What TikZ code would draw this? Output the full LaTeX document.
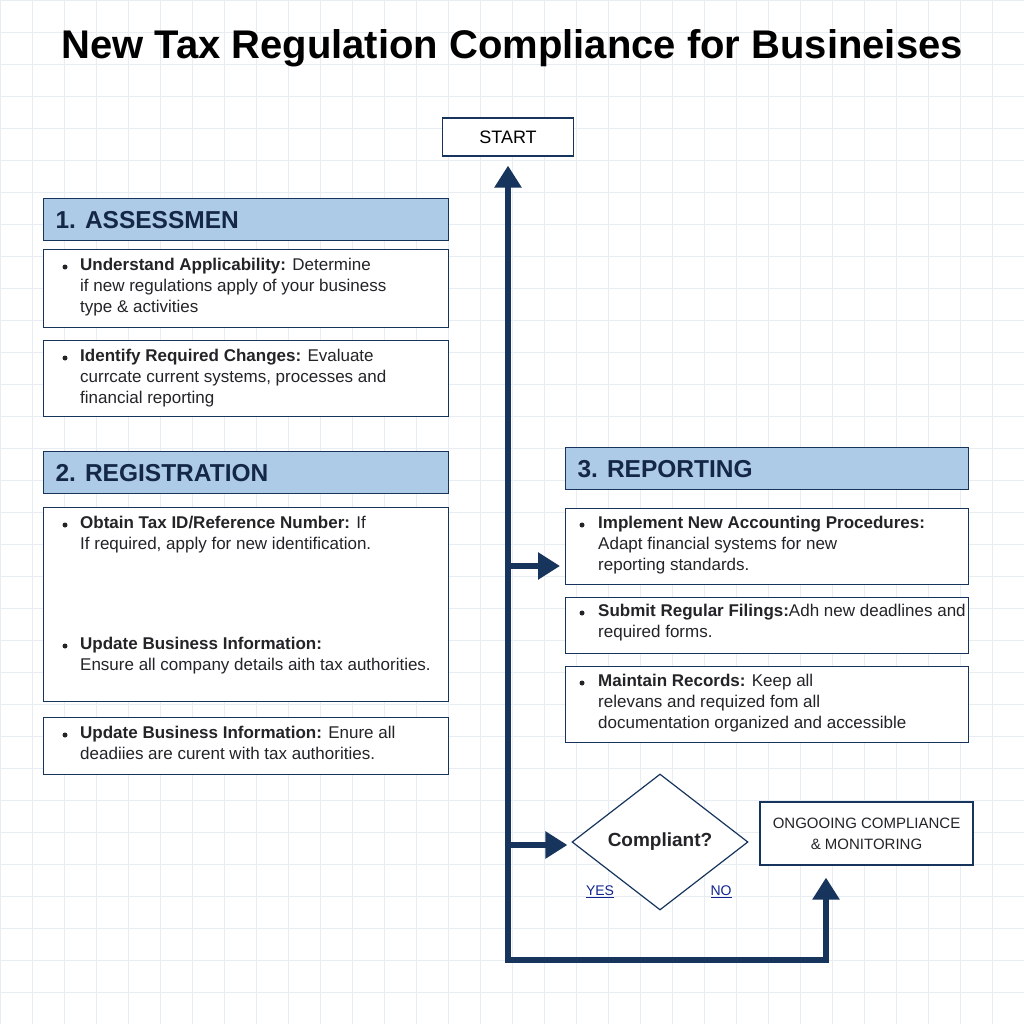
\documentclass[tikz,border=0pt]{standalone}
\usepackage{fontspec}
\setmainfont{Liberation Sans}
\usetikzlibrary{arrows.meta,shapes.geometric}
\begin{document}
\begin{tikzpicture}[x=1pt,y=-1pt,
  hdr/.style={draw=nv,line width=1.2pt,fill=hb,minimum height=42pt,
    minimum width=405pt,anchor=north west,inner sep=0pt},
  box/.style={draw=nv,line width=1.2pt,fill=white,minimum width=405pt,
    anchor=north west,inner sep=0pt},
  htxt/.style={anchor=west,text=tx,font=\fontsize{24.5}{26}\selectfont\bfseries},
  btxt/.style={anchor=north west,align=left,text=bt,inner sep=0pt,
    font=\fontsize{17}{21}\selectfont},
  dot/.style={circle,fill=bt,inner sep=0pt,minimum size=5pt},
  flow/.style={draw=nv,line width=6pt},
  tip/.style={-{Triangle[length=22pt,width=26pt]}}]
 \definecolor{nv}{RGB}{22,52,92}
 \definecolor{hb}{RGB}{173,203,230}
 \definecolor{tx}{RGB}{20,40,70}
 \definecolor{bt}{RGB}{35,35,40}
 \definecolor{gr}{RGB}{232,237,243}
 \useasboundingbox (0,0) rectangle (1024,1024);
 \fill[white] (0,0) rectangle (1024,1024);
 \foreach \p in {0,32,...,1024} {
   \draw[gr,line width=.6pt] (\p,0) -- (\p,1024);
   \draw[gr,line width=.6pt] (0,\p) -- (1024,\p);
 }
 \node (title) at (512,48) {\fontsize{40}{44}\selectfont\bfseries New Tax Regulation Compliance for Busineises};
 \node[draw=nv,line width=1.2pt,fill=white,minimum width=131pt,minimum height=38pt,
   font=\fontsize{18}{20}\selectfont] (start) at (508,137) {START};
 % section 1
 \node[hdr] (h1) at (43,198) {};
 \node[htxt] at (52,220) {1. ASSESSMEN};
 \node[box,minimum height=78pt] (b1) at (43,249) {};
 \node[dot] at (65,267) {};
 \node[btxt] (t1) at (80,258) {\textbf{Understand Applicability:} Determine\\
   if new regulations apply of your business\\type \& activities};
 \node[box,minimum height=76pt] (b2) at (43,340) {};
 \node[dot] at (65,358) {};
 \node[btxt] (t2) at (80,349) {\textbf{Identify Required Changes:} Evaluate\\
   currcate current systems, processes and\\financial reporting};
 % section 2
 \node[hdr] (h2) at (43,451) {};
 \node[htxt] at (52,473) {2. REGISTRATION};
 \node[box,minimum height=194pt] (b3) at (43,507) {};
 \node[dot] at (65,525) {};
 \node[btxt] (t3) at (80,516) {\textbf{Obtain Tax ID/Reference Number:} If\\
   If required, apply for new identification.};
 \node[dot] at (65,646) {};
 \node[btxt] (t4) at (80,637) {\textbf{Update Business Information:}\\
   Ensure all company details aith tax authorities.};
 \node[box,minimum height=57pt] (b4) at (43,717) {};
 \node[dot] at (65,735) {};
 \node[btxt] (t5) at (80,726) {\textbf{Update Business Information:} Enure all\\
   deadiies are curent with tax authorities.};
 % section 3
 \node[hdr,minimum width=403pt] (h3) at (565,447) {};
 \node[htxt] at (574,469) {3. REPORTING};
 \node[box,minimum width=403pt,minimum height=76pt] (b5) at (565,508) {};
 \node[dot] at (582,525) {};
 \node[btxt] (t6) at (598,516) {\textbf{Implement New Accounting Procedures:}\\
   Adapt financial systems for new\\reporting standards.};
 \node[box,minimum width=403pt,minimum height=56pt] (b6) at (565,597) {};
 \node[dot] at (582,613) {};
 \node[btxt] (t7) at (598,604) {\textbf{Submit Regular Filings:}Adh new deadlines and\\
   required forms.};
 \node[box,minimum width=403pt,minimum height=76pt] (b7) at (565,666) {};
 \node[dot] at (582,683) {};
 \node[btxt] (t8) at (598,674) {\textbf{Maintain Records:} Keep all\\
   relevans and requized fom all\\documentation organized and accessible};
 % decision
 \node[diamond,draw=nv,line width=1.2pt,fill=white,minimum width=176pt,
   minimum height=136pt,inner sep=0pt,font=\fontsize{19}{20}\selectfont\bfseries,text=bt]
   (dec) at (660,842) {Compliant?};
 \node[text=nv!70!blue,font=\fontsize{14}{16}\selectfont] (yes) at (600,892) {\underline{YES}};
 \node[text=nv!70!blue,font=\fontsize{14}{16}\selectfont] (no) at (721,892) {\underline{NO}};
 \node[draw=nv,line width=1.2pt,fill=white,minimum width=213pt,minimum height=63pt,
   align=center,font=\fontsize{15}{21}\selectfont,text=bt] (ong) at (866.5,833.5)
   {ONGOOING COMPLIANCE\\\& MONITORING};
 % flow lines
 \coordinate (bl) at (508,960);
 \coordinate (br) at (826,960);
 \coordinate (m1) at (508,566);
 \coordinate (m2) at (508,845);
 \draw[flow,{Triangle[length=22pt,width=26pt]}-{Triangle[length=22pt,width=26pt]}]
   ([yshift=-9pt]start.south) -- (bl) -- (br) -- ([yshift=-12pt]ong.south -| br);
 \draw[flow,tip] (m1) -- ([xshift=-5pt]b5.west |- m1);
 \draw[flow,tip] (m2) -- ([xshift=-4pt]dec.west |- m2);
\end{tikzpicture}
\end{document}
